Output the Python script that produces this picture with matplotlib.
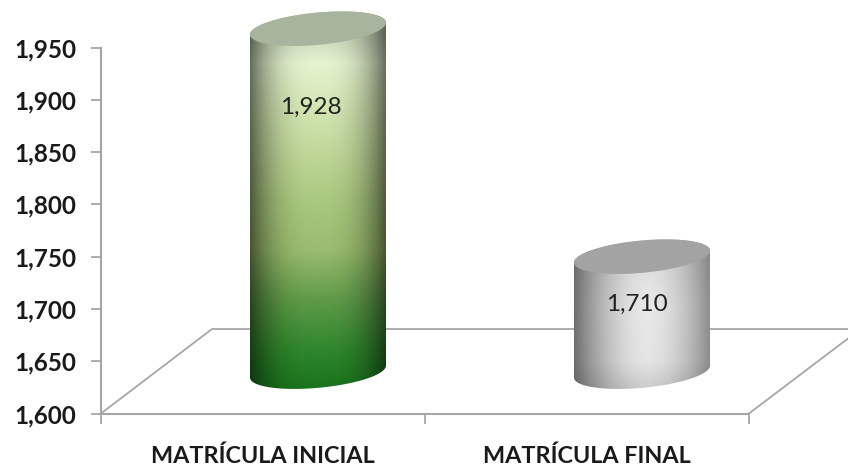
import numpy as np
import matplotlib
matplotlib.use('Agg')
import matplotlib.pyplot as plt
from matplotlib.patches import PathPatch, Polygon
from matplotlib.path import Path

# datos del grafico
categories = ['MATRÍCULA INICIAL', 'MATRÍCULA FINAL']
values = [1928, 1710]
y_ticks = [1600, 1650, 1700, 1750, 1800, 1850, 1900, 1950]

W, H = 848, 465
plt.rcParams['font.family'] = ['Lato', 'DejaVu Sans']

fig = plt.figure(figsize=(W / 100, H / 100), dpi=100)
# ejes colocados en pixeles
ax = fig.add_axes([101 / W, 1 - 413.5 / H, 648 / W, 366 / H])
ax.set_xlim(0, 2)
ax.set_ylim(1600, 1950)

px_x = 2 / 648      # unidades x por pixel
px_y = 350 / 366    # unidades y por pixel

# efecto 3D: profundidad del piso
depth_x = 111 * px_x
depth_y = 84.5 * px_y
line_color = '#a6a6a6'
ax.plot([0, depth_x, 2 + 99 * px_x], [1600, 1600 + depth_y, 1600 + depth_y],
        color=line_color, lw=1.3, clip_on=False, zorder=1)
ax.plot([2, 2 + 99 * px_x], [1600, 1600 + 75 * px_y],
        color=line_color, lw=1.3, clip_on=False, zorder=1)


def ellipse_pts(cx, cy, t):
    # elipse inclinada, como la tapa del cilindro
    x = cx + 68 * px_x * np.cos(t)
    y = cy + (6 * np.cos(t) + 16.2 * np.sin(t)) * px_y
    return np.column_stack([x, y])


def lerp_stops(pos, stops, colors):
    colors = np.array(colors) / 255
    return np.column_stack([np.interp(pos, stops, colors[:, i]) for i in range(3)])


def green_body(u, v):
    # v: 0 abajo, 1 arriba
    col = lerp_stops(v, [0, 0.11, 0.24, 0.37, 0.5, 0.74, 0.86, 0.92, 1],
                     [(25, 115, 28), (47, 135, 44), (95, 155, 72), (154, 188, 110),
                      (170, 200, 127), (210, 230, 178), (228, 244, 208),
                      (205, 220, 190), (190, 205, 175)])
    shade = 1 - 0.55 * np.abs(u[:, None]) ** 2.6
    return col[:, None, :] * shade[None, :, :]


def gray_body(u, v):
    col = lerp_stops(v, [0, 0.2, 0.55, 1],
                     [(200, 200, 200), (228, 228, 228), (232, 232, 232), (215, 215, 215)])
    shade = 1 - 0.45 * np.abs((u - 0.08)[:, None]) ** 1.8
    return col[:, None, :] * shade[None, :, :]


def draw_cylinder(x0, value, body_fn, top_color):
    cx = x0 + 55 * px_x
    base = 1600 + 40
    top = value + 40

    t_front = np.linspace(np.pi, 2 * np.pi, 80)
    outline = np.vstack([ellipse_pts(cx, base, t_front),
                         ellipse_pts(cx, top, np.linspace(0, np.pi, 80))])

    u = np.linspace(-1, 1, 140)
    v = np.linspace(0, 1, 400)
    rgb = np.clip(body_fn(u, v), 0, 1)
    y_lo = base - 20 * px_y
    y_hi = top + 20 * px_y
    # el degradado se extiende a lo alto del cuerpo del cilindro
    im = ax.imshow(rgb, origin='lower', aspect='auto', interpolation='bilinear',
                   extent=[cx - 68 * px_x, cx + 68 * px_x, y_lo, y_hi], zorder=3)
    body = PathPatch(Path(outline), transform=ax.transData, fc='none', ec='none')
    ax.add_patch(body)
    body.set_clip_on(False)
    im.set_clip_path(body)
    im.set_clip_box(fig.bbox)

    lid = Polygon(ellipse_pts(cx, top, np.linspace(0, 2 * np.pi, 160)), closed=True,
                  fc=top_color, ec='none', clip_on=False, zorder=4)
    ax.add_patch(lid)
    return cx


x_pos = [0.5, 1.5]
cx1 = draw_cylinder(x_pos[0], values[0], green_body, '#a7b59e')
cx2 = draw_cylinder(x_pos[1], values[1], gray_body, '#a3a3a3')
ax.set_xlim(0, 2)
ax.set_ylim(1600, 1950)

# etiquetas de valor
ax.text(cx1 - 7 * px_x, values[0] - 35, f'{values[0]:,}', ha='center', va='center',
        fontsize=17.5, color='#222222', clip_on=False, zorder=5)
ax.text(cx2 - 5 * px_x, values[1] - 6, f'{values[1]:,}', ha='center', va='center',
        fontsize=17.5, color='#222222', clip_on=False, zorder=5)

# ejes
for side in ['top', 'right']:
    ax.spines[side].set_visible(False)
for side in ['left', 'bottom']:
    ax.spines[side].set_color(line_color)
    ax.spines[side].set_linewidth(1.5)
    ax.spines[side].set_zorder(2)

ax.set_yticks(y_ticks)
ax.set_yticklabels([f'{t:,}' for t in y_ticks], fontsize=17.5, fontweight='bold', color='#1a1a1a')
ax.set_xticks([0, 1, 2])
ax.set_xticklabels([])
ax.tick_params(axis='both', length=7.5, width=1.3, color=line_color)
ax.tick_params(axis='y', pad=10.5)

for x, name in zip(x_pos, categories):
    ax.text(x, 1600 - 49.5 * px_y, name, ha='center', va='baseline',
            fontsize=16.8, fontweight='bold', color='#1a1a1a', clip_on=False)

fig.savefig('out.png', dpi=100)
